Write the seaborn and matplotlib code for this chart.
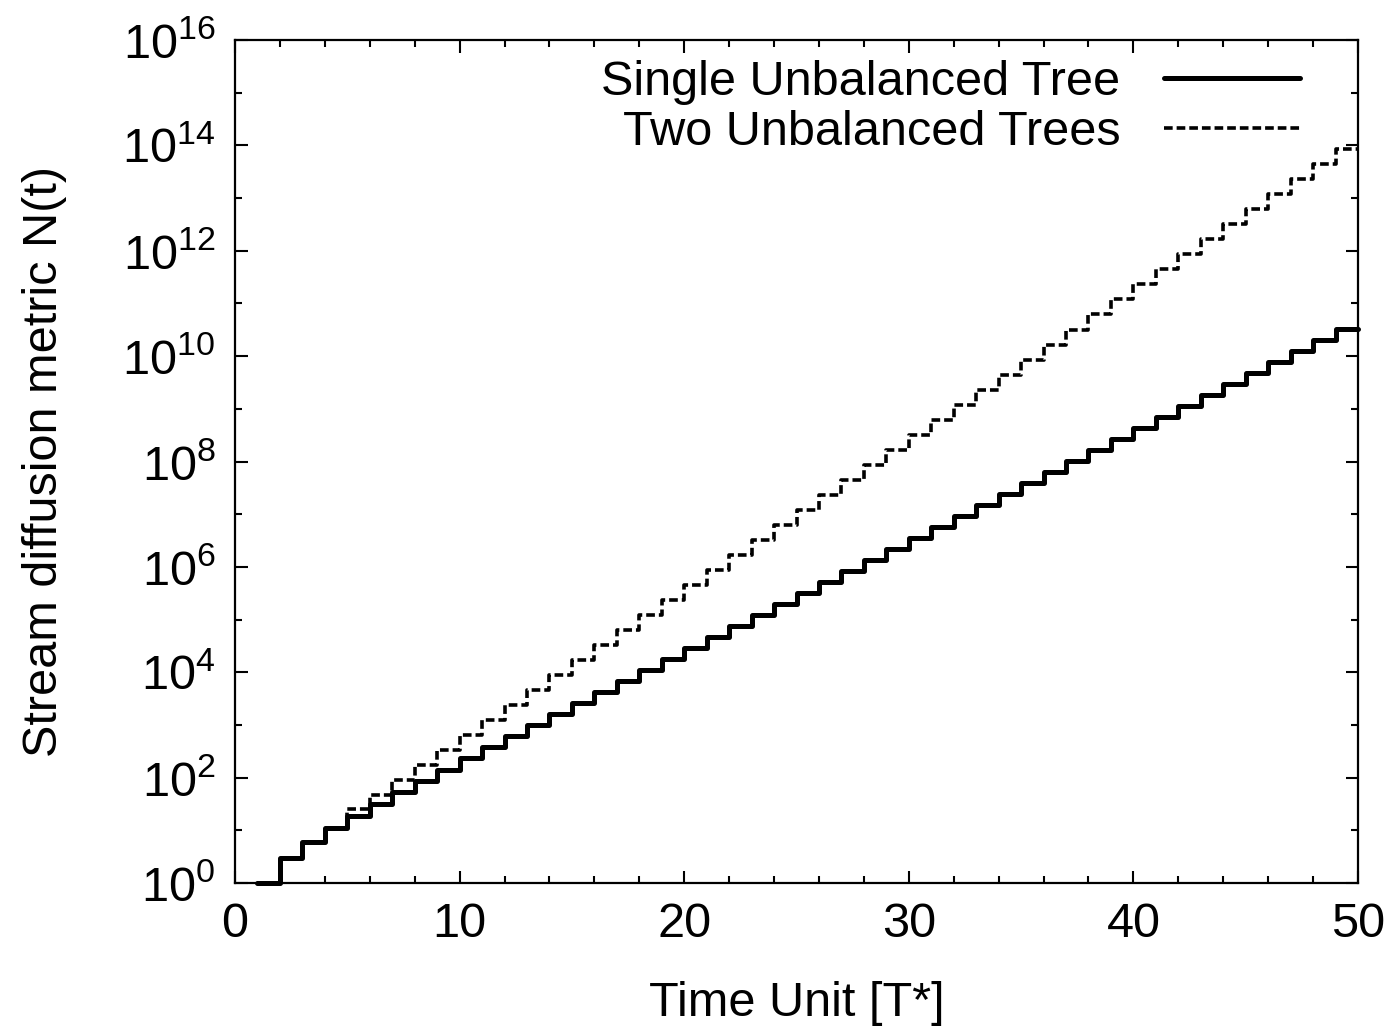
import math
import matplotlib
matplotlib.use("Agg")
import matplotlib.pyplot as plt
import matplotlib.ticker as mticker
import pandas as pd
import seaborn as sns

# time steps (last value held until t=50)
time_units = list(range(1, 51))

single_tree = [
    1, 3, 6, 11, 19, 32, 53, 87, 142, 231,
    375, 608, 985, 1.60e3, 2.58e3, 4.18e3, 6.76e3, 1.09e4, 1.77e4, 2.87e4,
    4.64e4, 7.50e4, 1.21e5, 1.96e5, 3.18e5, 5.14e5, 8.32e5, 1.35e6, 2.18e6, 3.52e6,
    5.70e6, 9.23e6, 1.49e7, 2.42e7, 3.91e7, 6.32e7, 1.02e8, 1.66e8, 2.68e8, 4.33e8,
    7.01e8, 1.13e9, 1.84e9, 2.97e9, 4.81e9, 7.78e9, 1.26e10, 2.04e10, 3.30e10, 3.30e10,
]

two_trees = [
    1, 3, 6, 11, 25, 47, 90, 174, 335, 646,
    1.25e3, 2.40e3, 4.62e3, 8.91e3, 1.72e4, 3.31e4, 6.38e4, 1.23e5, 2.37e5, 4.57e5,
    8.81e5, 1.70e6, 3.27e6, 6.31e6, 1.22e7, 2.34e7, 4.52e7, 8.71e7, 1.68e8, 3.24e8,
    6.24e8, 1.20e9, 2.32e9, 4.47e9, 8.61e9, 1.66e10, 3.20e10, 6.17e10, 1.19e11, 2.29e11,
    4.42e11, 8.51e11, 1.64e12, 3.16e12, 6.10e12, 1.17e13, 2.26e13, 4.37e13, 8.41e13, 8.41e13,
]

labels = ["Single Unbalanced Tree", "Two Unbalanced Trees"]

sns.set_style("ticks")
plt.rcParams["font.family"] = ["Liberation Sans", "DejaVu Sans"]
plt.rcParams["mathtext.fontset"] = "custom"
plt.rcParams["mathtext.rm"] = "Liberation Sans"
plt.rcParams["mathtext.default"] = "rm"
plt.rcParams["text.color"] = "black"
plt.rcParams["axes.labelcolor"] = "black"
plt.rcParams["xtick.color"] = "black"
plt.rcParams["ytick.color"] = "black"

FS = 35

df = pd.DataFrame({"t": time_units, "single": single_tree, "two": two_trees})

fig = plt.figure(figsize=(14, 10.34), dpi=100)
ax = fig.add_axes([235 / 1400, 1 - 883 / 1034, (1358 - 235) / 1400, (883 - 40) / 1034])

sns.lineplot(data=df, x="t", y="single", ax=ax, color="black", lw=3.6,
             drawstyle="steps-post", label=labels[0], clip_on=False)
sns.lineplot(data=df, x="t", y="two", ax=ax, color="black", lw=2.6,
             linestyle=(0, (2.4, 1.1)), drawstyle="steps-post", label=labels[1])

ax.set_yscale("log")
ax.set_xlim(0, 50)
ax.set_ylim(1, 1e16)

ax.xaxis.set_major_locator(mticker.MultipleLocator(10))
ax.xaxis.set_minor_locator(mticker.MultipleLocator(2))
ax.yaxis.set_major_locator(mticker.FixedLocator([10.0 ** k for k in range(0, 17, 2)]))
ax.yaxis.set_minor_locator(mticker.FixedLocator([10.0 ** k for k in range(1, 16, 2)]))
ax.yaxis.set_major_formatter(mticker.FuncFormatter(lambda v, p: r"$10^{%d}$" % round(math.log10(v))))
ax.yaxis.set_minor_formatter(mticker.NullFormatter())

ax.tick_params(which="both", direction="in", top=True, right=True, width=1.5, labelsize=FS)
ax.tick_params(which="major", length=9, pad=14)
ax.tick_params(which="minor", length=5)
for s in ax.spines.values():
    s.set_linewidth(1.6)
    s.set_color("black")

ax.set_xlabel("Time Unit [T*]", fontsize=FS, labelpad=24)
ax.set_ylabel("Stream diffusion metric N(t)", fontsize=FS, labelpad=40)

ax.legend(loc="upper right", bbox_to_anchor=(1 - 58 / 1123, 1 - 20 / 843),
          frameon=False, markerfirst=False, fontsize=FS, handlelength=2.8,
          handletextpad=0.9, labelspacing=0.1, borderpad=0, borderaxespad=0)

fig.savefig("out.png", dpi=100)
